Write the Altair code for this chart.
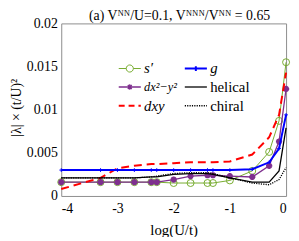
import altair as alt
import pandas as pd

# x = log10(U/t)
x_vals = [-4, -3.301, -3, -2.699, -2.398, -2.301, -2, -1.699, -1.398, -1.301, -1, -0.602, -0.301, -0.125, 0]

s_prime = [0.0016, 0.0016, 0.0016, 0.0016, 0.0016, 0.0016, 0.0015, 0.0015, 0.0015, 0.0015, 0.0018, 0.0029, 0.0051, 0.0087, 0.0155]
d_x2y2 = [0.0016, 0.0016, 0.0016, 0.0016, 0.0016, 0.0016, 0.0019, 0.0023, 0.0024, 0.0024, 0.0023, 0.0022, 0.0035, 0.0063, 0.0124]
d_xy = [0.0008, 0.0021, 0.0032, 0.0035, 0.0037, 0.0037, 0.0038, 0.0039, 0.0039, 0.0039, 0.0040, 0.0048, 0.0068, 0.0094, 0.0143]
g_wave = [0.0030, 0.0030, 0.0030, 0.0030, 0.0030, 0.0030, 0.0030, 0.0030, 0.0030, 0.0030, 0.0030, 0.0031, 0.0039, 0.0055, 0.0094]
helical = [0.0021, 0.0021, 0.0021, 0.0021, 0.0022, 0.0022, 0.0025, 0.0026, 0.0026, 0.0025, 0.0021, 0.0016, 0.0016, 0.0029, 0.0079]
chiral = [0.0021, 0.0021, 0.0021, 0.0021, 0.0022, 0.0023, 0.0026, 0.0027, 0.0027, 0.0026, 0.0021, 0.0015, 0.0013, 0.0019, 0.0033]

# legend order (column-major, 2 columns)
series_keys = ["s", "d1", "d2", "g", "helical", "chiral"]
series_labels = ["s′", "dx²−y²", "dxy", "g", "helical", "chiral"]
series_colors = ["#77AC30", "#7E2F8E", "#FF0000", "#0000FF", "#000000", "#000000"]

y_ticks = [0, 0.005, 0.01, 0.015, 0.02]
x_ticks = [-4, -3, -2, -1, 0]

series_data = {"s": s_prime, "d1": d_x2y2, "d2": d_xy, "g": g_wave, "helical": helical, "chiral": chiral}
rows = []
for k, vals in series_data.items():
    for xv, yv in zip(x_vals, vals):
        rows.append({"x": xv, "y": yv, "series": k})
df = pd.DataFrame(rows)

FONT = "Liberation Serif"

label_map = "{" + ",".join(f"'{k}':'{l}'" for k, l in zip(series_keys, series_labels)) + "}"

P_LINE = "M-1.4,0L1.4,0"
P_CIRC = "M-1.4,0L-0.45,0M0.45,0L1.4,0M-0.45,0A0.45,0.45 0 1 0 0.45,0A0.45,0.45 0 1 0 -0.45,0"
P_AST = "M-1.4,0L1.4,0M0,-0.35L0,0.35M-0.25,-0.25L0.25,0.25M-0.25,0.25L0.25,-0.25"
P_PLUS = "M-1.4,0L1.4,0M0,-0.3L0,0.3"

shape_sig = (f"datum.value==='s' ? '{P_CIRC}' : datum.value==='d1' ? '{P_AST}' : "
             f"datum.value==='g' ? '{P_PLUS}' : '{P_LINE}'")
dash_sig = "datum.value==='d2' ? [6,4] : datum.value==='chiral' ? [1.2,1.2] : []"
width_sig = "datum.value==='d2' || datum.value==='g' ? 2 : datum.value==='s' ? 1 : 1.3"
style_sig = "datum.value==='helical' || datum.value==='chiral' ? 'normal' : 'italic'"
size_sig = "datum.value==='d1' ? 12.5 : 15"

color_scale = alt.Scale(domain=series_keys, range=series_colors)

legend = alt.Legend(
    title=None, orient="none", legendX=62, legendY=38, columns=2, columnPadding=3,
    rowPadding=3, symbolSize=256, labelOffset=7, labelFont=FONT,
    labelFontSize=alt.ExprRef(expr=size_sig),
    labelColor="#000", labelExpr=f"{label_map}[datum.value]",
    symbolType=alt.ExprRef(expr=shape_sig),
    symbolDash=alt.ExprRef(expr=dash_sig),
    symbolStrokeWidth=alt.ExprRef(expr=width_sig),
    symbolFillColor="transparent",
    labelFontStyle=alt.ExprRef(expr=style_sig),
)

x_enc = alt.X("x:Q", scale=alt.Scale(domain=[-4, 0], nice=False),
              axis=alt.Axis(values=x_ticks, labelExpr="toString(datum.value)", title="log(U/t)",
                            grid=False, ticks=False, labelPadding=6, domain=False,
                            titleX=114, titleY=34, titleBaseline="middle", titleAlign="center"))
y_enc = alt.Y("y:Q", scale=alt.Scale(domain=[0, 0.02], nice=False),
              axis=alt.Axis(values=y_ticks, labelExpr="format(datum.value, '~g')",
                            title="|λ| × (t/U)²", grid=False, ticks=False, labelPadding=4, domain=False,
                            titleX=-45, titleY=85, titleAngle=-90, titleBaseline="middle",
                            titleAlign="center", titleFontSize=14))

base = alt.Chart(df).encode(x=x_enc, y=y_enc)


def line_layer(key, width, dash=None, show_legend=False):
    kw = {}
    if dash is not None:
        kw["strokeDash"] = dash
    ch = base.transform_filter(alt.datum.series == key).mark_line(strokeWidth=width, **kw)
    return ch.encode(color=alt.Color("series:N", scale=color_scale,
                                     legend=legend if show_legend else None))


def point_layer(key, color, shape, size, width, filled=False):
    return base.transform_filter(alt.datum.series == key).mark_point(
        shape=shape, size=size, strokeWidth=width, filled=filled, color=color, opacity=1,
        fill="transparent" if not filled else color)


AST_SHAPE = "M0,-1L0,1M-1,0L1,0M-0.7,-0.7L0.7,0.7M-0.7,0.7L0.7,-0.7"
PLUS_SHAPE = "M0,-1L0,1M-1,0L1,0"

chart = alt.layer(
    line_layer("s", 1, show_legend=True),
    point_layer("s", "#77AC30", "circle", 50, 1),
    line_layer("d1", 1.3),
    point_layer("d1", "#7E2F8E", AST_SHAPE, 40, 2),
    line_layer("d2", 2, dash=[8, 5]),
    line_layer("g", 2),
    point_layer("g", "#0000FF", PLUS_SHAPE, 14, 1),
    line_layer("helical", 1.3),
    line_layer("chiral", 1.3, dash=[1.2, 1.2]),
).properties(
    width=228, height=175,
    padding={"left": 54, "top": 14, "right": 5, "bottom": 40},
    autosize=alt.AutoSizeParams(type="none"),
    title=alt.Title("(a) Vᴺᴺ/U=0.1, Vᴺᴺᴺ/Vᴺᴺ = 0.65", font=FONT, fontSize=14, fontWeight="normal",
                    color="#000", offset=-7, anchor="middle", dx=6),
).configure_view(stroke="#8c8c8c", strokeWidth=1).configure_axis(
    labelFont=FONT, labelFontSize=14, labelColor="#000", titleFont=FONT, titleFontSize=15,
    titleColor="#000", titleFontWeight="normal"
)

chart.save("out.html", embed_options={"renderer": "svg", "actions": False})
